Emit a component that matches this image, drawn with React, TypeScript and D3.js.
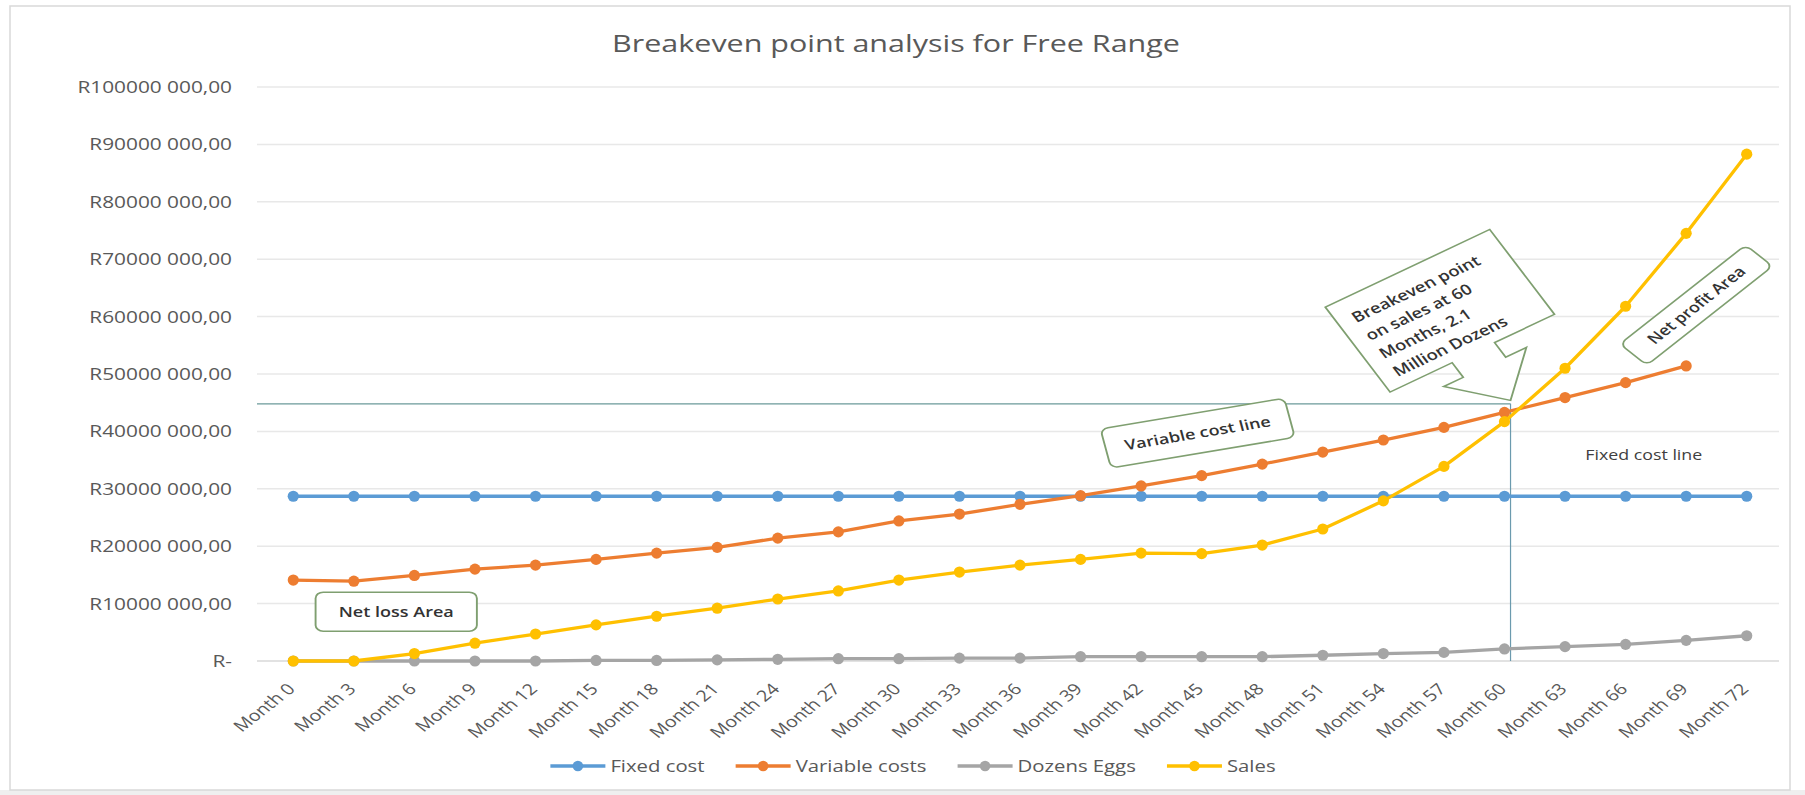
import React, { useMemo } from "react";
import * as d3 from "d3";

// ---------- DATA (values in millions of Rand) ----------
const monthLabels = [
  "Month 0", "Month 3", "Month 6", "Month 9", "Month 12", "Month 15", "Month 18",
  "Month 21", "Month 24", "Month 27", "Month 30", "Month 33", "Month 36", "Month 39",
  "Month 42", "Month 45", "Month 48", "Month 51", "Month 54", "Month 57", "Month 60",
  "Month 63", "Month 66", "Month 69", "Month 72",
];
const monthNumbers = [0, 3, 6, 9, 12, 15, 18, 21, 24, 27, 30, 33, 36, 39, 42, 45, 48, 51, 54, 57, 60, 63, 66, 69, 72];

const fixedCost = [
  28.7, 28.7, 28.7, 28.7, 28.7, 28.7, 28.7, 28.7, 28.7, 28.7, 28.7, 28.7, 28.7,
  28.7, 28.7, 28.7, 28.7, 28.7, 28.7, 28.7, 28.7, 28.7, 28.7, 28.7, 28.7,
];
const variableCosts: (number | null)[] = [
  14.1, 13.9, 14.9, 16.0, 16.7, 17.7, 18.8, 19.8, 21.4, 22.5, 24.4, 25.6, 27.3,
  28.8, 30.5, 32.3, 34.3, 36.4, 38.5, 40.7, 43.3, 45.9, 48.5, 51.4, null,
];
const dozensEggs = [
  0, 0, 0, 0, 0, 0.1, 0.1, 0.2, 0.3, 0.4, 0.4, 0.5, 0.5,
  0.75, 0.75, 0.75, 0.75, 1.0, 1.3, 1.5, 2.1, 2.5, 2.9, 3.6, 4.4,
];
const sales = [
  0, 0, 1.3, 3.1, 4.7, 6.3, 7.8, 9.2, 10.8, 12.2, 14.1, 15.5, 16.7,
  17.7, 18.8, 18.7, 20.2, 23.0, 27.9, 33.9, 41.7, 51.0, 61.8, 74.5, 88.3,
];

const yTickValues = [0, 10, 20, 30, 40, 50, 60, 70, 80, 90, 100];
const yTickLabels = [
  "R-", "R10000 000,00", "R20000 000,00", "R30000 000,00", "R40000 000,00",
  "R50000 000,00", "R60000 000,00", "R70000 000,00", "R80000 000,00",
  "R90000 000,00", "R100000 000,00",
];

const seriesNames = ["Fixed cost", "Variable costs", "Dozens Eggs", "Sales"];
const seriesColors = ["#5B9BD5", "#ED7D31", "#A5A5A5", "#FFC000"];
const seriesValues: (number | null)[][] = [fixedCost, variableCosts, dozensEggs, sales];

const title = "Breakeven point analysis for Free Range";
const breakeven = { month: 60.3, value: 44.8 };
const calloutTip = { month: 60.3, value: 45.4 };
const calloutLines = ["Breakeven point", "on sales at 60", "Months, 2.1", "Million Dozens"];
const netLoss = { month: 5.1, value: 8.6, text: "Net loss Area" };
const varCostLabel = { month: 44.8, value: 39.7, text: "Variable cost line" };
const netProfit = { month: 69.5, value: 62.0, text: "Net profit Area" };
const fixedCostLabel = { month: 66.9, value: 35.9, text: "Fixed cost line" };

// ---------- LAYOUT ----------
const W = 1805;
const H = 795;
const K = 1.27; // horizontal stretch of the source picture
const FONT = '"Open Sans", "Noto Sans", sans-serif';
const TXT = "#595959";
const NOTE = "#333333";
const BOX = "#7f9f70";

function measure(text: string, size: number, weight = 400): number {
  const c = document.createElement("canvas").getContext("2d");
  if (!c) return text.length * size * 0.55;
  c.font = `${weight} ${size}px "Open Sans"`;
  return c.measureText(text).width;
}

export default function App() {
  const x = useMemo(
    () => d3.scaleBand<string>().domain(monthLabels).range([263, 1777]).padding(0),
    []
  );
  const xc = (lab: string) => (x(lab) as number) + x.bandwidth() / 2;
  const xMonth = d3
    .scaleLinear()
    .domain([monthNumbers[0], monthNumbers[monthNumbers.length - 1]])
    .range([xc(monthLabels[0]), xc(monthLabels[monthLabels.length - 1])]);
  const y = d3.scaleLinear().domain([0, 100]).range([661, 87]);

  const line = d3
    .line<number | null>()
    .defined((d) => d !== null)
    .x((_, i) => xc(monthLabels[i]))
    .y((d) => y(d as number));

  const gridX0 = 257;
  const gridX1 = 1779;

  // legend layout
  const legendFont = 16;
  const lineLen = 55;
  const itemGap = 31;
  const itemWidths = seriesNames.map((n) => lineLen + 5 + measure(n, legendFont) * K);
  const legendTotal = d3.sum(itemWidths) + itemGap * (seriesNames.length - 1);
  const legendCenter = 913;
  const legendY = 766;
  let cursor = legendCenter - legendTotal / 2;
  const legendStarts = itemWidths.map((w) => {
    const s = cursor;
    cursor += w + itemGap;
    return s;
  });

  const bx = xMonth(breakeven.month);
  const by = y(breakeven.value);
  const tipX = xMonth(calloutTip.month);
  const tipY = y(calloutTip.value);

  // callout local geometry (box 151 x 99 with down arrow)
  const cw = 151, ch = 99;
  const calloutPts: [number, number][] = [
    [0, 0], [cw, 0], [cw, ch], [96, ch], [96, 116], [115, 116], [77, 155],
    [39, 116], [57, 116], [57, ch], [0, ch],
  ];

  const stretch = (px: number, py: number, rot = 0) =>
    `translate(${px},${py}) scale(${K},1) rotate(${rot})`;

  return (
    <svg
      width={W}
      height={H}
      style={{ position: "absolute", left: 0, top: 0, display: "block", background: "#ffffff" }}
      fontFamily={FONT}
    >
      <rect x={0} y={790} width={W} height={5} fill="#efefef" />
      <rect x={10} y={6} width={1780} height={784} fill="#ffffff" stroke="#d9d9d9" strokeWidth={1.5} />

      {/* title */}
      <text transform={stretch(896, 52)} textAnchor="middle" fontSize={24} fill={TXT}>
        {title}
      </text>

      {/* gridlines + y labels */}
      {yTickValues.map((v, i) => (
        <g key={v}>
          <line x1={gridX0} x2={gridX1} y1={y(v)} y2={y(v)} stroke={i === 0 ? "#d9d9d9" : "#e8e8e8"} strokeWidth={1.5} />
          <text transform={stretch(232, y(v))} textAnchor="end" dy="0.36em" fontSize={16.4} fill={TXT}>
            {yTickLabels[i]}
          </text>
        </g>
      ))}

      {/* x labels */}
      {monthLabels.map((m) => (
        <text key={m} transform={stretch(xc(m) - 2, 686, -45)} textAnchor="end" dy="0.36em" fontSize={15.5} fill={TXT}>
          {m}
        </text>
      ))}

      {/* breakeven guide lines */}
      <line x1={gridX0} x2={bx} y1={by} y2={by} stroke="#6b9a9a" strokeWidth={1.2} />
      <line x1={bx} x2={bx} y1={by} y2={y(0)} stroke="#6b9aae" strokeWidth={1.2} />

      {/* series */}
      {seriesValues.map((vals, si) => (
        <g key={seriesNames[si]}>
          <path d={line(vals) || ""} fill="none" stroke={seriesColors[si]} strokeWidth={3.3} strokeLinejoin="round" />
          {vals.map((v, i) =>
            v === null ? null : (
              <circle key={i} cx={xc(monthLabels[i])} cy={y(v)} r={5.6} fill={seriesColors[si]} />
            )
          )}
        </g>
      ))}

      {/* Net loss Area */}
      <g transform={stretch(xMonth(netLoss.month), y(netLoss.value))}>
        <rect x={-63.5} y={-19.5} width={127} height={39} rx={6} fill="#ffffff" stroke={BOX} strokeWidth={1.5} />
        <text textAnchor="middle" dy="0.36em" fontSize={14.2} fontWeight={600} fill={NOTE}>
          {netLoss.text}
        </text>
      </g>

      {/* Variable cost line */}
      <g transform={stretch(xMonth(varCostLabel.month), y(varCostLabel.value), -12)}>
        <rect x={-74} y={-20} width={148} height={40} rx={6} fill="#ffffff" stroke={BOX} strokeWidth={1.5} />
        <text textAnchor="middle" dy="0.36em" fontSize={14.2} fontWeight={600} fill={NOTE}>
          {varCostLabel.text}
        </text>
      </g>

      {/* Net profit Area */}
      <g transform={stretch(xMonth(netProfit.month), y(netProfit.value), -45)}>
        <rect x={-70} y={-15} width={140} height={30} rx={6} fill="#ffffff" stroke={BOX} strokeWidth={1.5} />
        <text textAnchor="middle" dy="0.36em" fontSize={14.2} fontWeight={600} fill={NOTE}>
          {netProfit.text}
        </text>
      </g>

      {/* Fixed cost line label */}
      <text transform={stretch(xMonth(fixedCostLabel.month), y(fixedCostLabel.value))} textAnchor="middle" dy="0.36em" fontSize={14} fill="#404040">
        {fixedCostLabel.text}
      </text>

      {/* Breakeven callout */}
      <g transform={`${stretch(tipX, tipY, -31)} translate(-77,-155)`}>
        <polygon
          points={calloutPts.map((p) => p.join(",")).join(" ")}
          fill="#ffffff"
          stroke={BOX}
          strokeWidth={1.5}
          strokeLinejoin="miter"
        />
        {calloutLines.map((l, i) => (
          <text key={l} x={13} y={21 + i * 21} dy="0.36em" fontSize={14.5} fontWeight={600} fill={NOTE}>
            {l}
          </text>
        ))}
      </g>

      {/* legend */}
      {seriesNames.map((n, i) => {
        const s = legendStarts[i];
        return (
          <g key={n}>
            <line x1={s} x2={s + lineLen} y1={legendY} y2={legendY} stroke={seriesColors[i]} strokeWidth={3.3} />
            <circle cx={s + lineLen / 2} cy={legendY} r={5.3} fill={seriesColors[i]} />
            <text transform={stretch(s + lineLen + 5, legendY)} dy="0.36em" fontSize={legendFont} fill={TXT}>
              {n}
            </text>
          </g>
        );
      })}
    </svg>
  );
}
